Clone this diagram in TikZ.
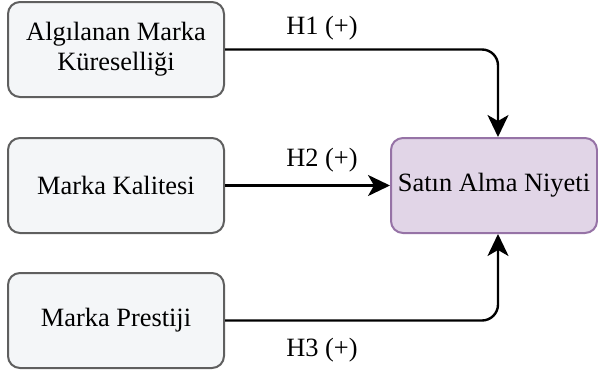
\documentclass[tikz,border=0pt]{standalone}
\usepackage{fontspec}
\setmainfont{Liberation Serif}
\usetikzlibrary{arrows.meta,calc}

\definecolor{boxfill}{HTML}{F4F6F8}
\definecolor{boxline}{HTML}{5F5F5F}
\definecolor{satfill}{HTML}{E1D5E7}
\definecolor{satline}{HTML}{9673A6}

\tikzset{
  factor/.style={draw=boxline, fill=boxfill, line width=1pt, rounded corners=6pt,
    minimum width=108pt, minimum height=47.5pt, align=center, inner sep=0pt},
  target/.style={factor, draw=satline, fill=satfill, minimum width=103pt},
  hyp/.style={-{Stealth[length=11pt,width=10.5pt,inset=3pt]}, line width=1.2pt, rounded corners=8pt},
}

\begin{document}
\begin{tikzpicture}[x=0.5pt, y=0.5pt, font=\fontsize{13.2}{15}\selectfont]
\useasboundingbox (0, 0) rectangle (598, 371);

\node [factor] (ALG) at (116, 321.5) {Algılanan Marka\\Küreselliği};
\node [factor] (KAL) at (116, 185.5) {Marka Kalitesi};
\node [factor] (PRE) at (116, 50.5) {Marka Prestiji};
\node [target] (SAT) at (494, 185.5) {Satın Alma Niyeti};

\node (H1) at (322, 343) {H1 (+)};
\node (H2) at (322, 211) {H2 (+)};
\node (H3) at (322, 21) {H3 (+)};

\draw [hyp] (ALG.east) -| ($(SAT.north)+(4,0)$);
\draw [hyp] (KAL.east) -- (SAT.west);
\draw [hyp] (PRE.east) -| ($(SAT.south)+(4,0)$);
\end{tikzpicture}
\end{document}
